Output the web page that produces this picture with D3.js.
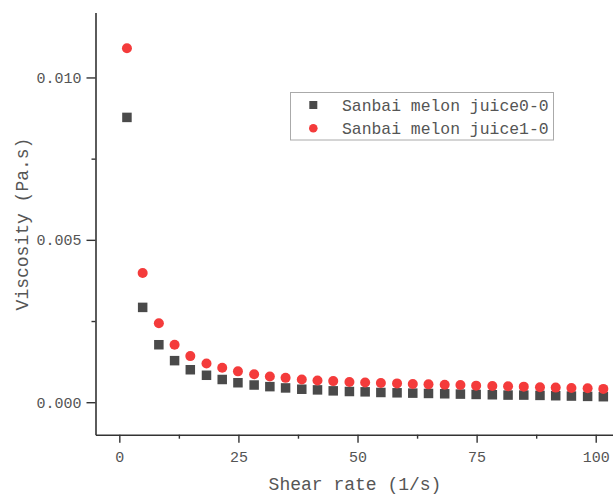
<!DOCTYPE html>
<html>
<head>
<meta charset="utf-8">
<script src="https://cdn.jsdelivr.net/npm/d3@7"></script>
<style>
  html, body { margin: 0; padding: 0; background: #fff; }
  svg { display: block; }
</style>
</head>
<body>
<svg id="chart" width="613" height="497"></svg>
<script>
// ---- data ----
const shearRate = [1.6, 4.9, 8.3, 11.6, 14.9, 18.3, 21.6, 24.9, 28.3, 31.6, 34.9, 38.3, 41.6, 44.9, 48.3, 51.6,
  54.9, 58.3, 61.6, 64.9, 68.3, 71.6, 74.9, 78.3, 81.6, 84.9, 88.3, 91.6, 94.9, 98.3, 101.6];
const juice00 = [0.00877, 0.00292, 0.00177, 0.00128, 0.00100, 0.00083, 0.00070, 0.00060, 0.00053, 0.00048,
  0.00044, 0.00040, 0.00038, 0.00035, 0.00033, 0.00032, 0.00030, 0.00029, 0.00028, 0.00027, 0.00026,
  0.00025, 0.00024, 0.00023, 0.00022, 0.00022, 0.00021, 0.00020, 0.00019, 0.00018, 0.00017];
const juice10 = [0.01090, 0.00398, 0.00243, 0.00177, 0.00142, 0.00119, 0.00106, 0.00095, 0.00086, 0.00079,
  0.00075, 0.00070, 0.00067, 0.00065, 0.00062, 0.00061, 0.00059, 0.00058, 0.00056, 0.00055, 0.00054,
  0.00053, 0.00051, 0.00050, 0.00049, 0.00048, 0.00046, 0.00045, 0.00044, 0.00043, 0.00041];
const seriesNames = ["Sanbai melon juice0-0", "Sanbai melon juice1-0"];
const xTicks = [0, 25, 50, 75, 100];
const xTickLabels = ["0", "25", "50", "75", "100"];
const xMinorTicks = [12.5, 37.5, 62.5, 87.5];
const yTicks = [0, 0.005, 0.010];
const yTickLabels = ["0.000", "0.005", "0.010"];
const yMinorTicks = [0.0025, 0.0075];
const xTitle = "Shear rate (1/s)";
const yTitle = "Viscosity (Pa.s)";

// ---- layout ----
const svg = d3.select("#chart");
const plotLeft = 95.5, plotBottom = 434.7, plotTop = 12.5;
const x = d3.scaleLinear().domain([-5, 105]).range([plotLeft, plotLeft + 110 * 4.764]);
const y = d3.scaleLinear().domain([-0.001, 0.012]).range([plotBottom, plotTop]);

const font = "'Liberation Mono', 'DejaVu Sans Mono', monospace";
const axisColor = "#333";
const textColor = "#555";
const blackC = "#4a4a4a";
const redC = "#f43b3b";

// axes
const gx = svg.append("g").attr("transform", `translate(0,${plotBottom})`)
  .call(d3.axisBottom(x).tickValues(xTicks).tickFormat((d, i) => xTickLabels[i]).tickSize(8).tickSizeOuter(0).tickPadding(9));
const gxm = svg.append("g").attr("transform", `translate(0,${plotBottom})`)
  .call(d3.axisBottom(x).tickValues(xMinorTicks).tickFormat("").tickSize(4).tickSizeOuter(0));
const gy = svg.append("g").attr("transform", `translate(${plotLeft},0)`)
  .call(d3.axisLeft(y).tickValues(yTicks).tickFormat((d, i) => yTickLabels[i]).tickSize(9).tickSizeOuter(0).tickPadding(5));
const gym = svg.append("g").attr("transform", `translate(${plotLeft},0)`)
  .call(d3.axisLeft(y).tickValues(yMinorTicks).tickFormat("").tickSize(4).tickSizeOuter(0));

[gx, gxm, gy, gym].forEach(g => {
  g.select(".domain").attr("stroke", axisColor).attr("stroke-width", 1.6);
  g.selectAll(".tick line").attr("stroke", axisColor).attr("stroke-width", 1.4);
  g.selectAll(".tick text").attr("fill", textColor).style("font-family", font).style("font-size", "15px");
});
gxm.select(".domain").remove();
gym.select(".domain").remove();

// titles
svg.append("text").attr("x", 355).attr("y", 490).attr("text-anchor", "middle")
  .attr("fill", textColor).style("font-family", font).style("font-size", "18px").text(xTitle);
svg.append("text").attr("transform", `translate(28,224) rotate(-90)`).attr("text-anchor", "middle")
  .attr("fill", textColor).style("font-family", font).style("font-size", "18px").text(yTitle);

// data marks
const sq = 9.5;
svg.append("g").selectAll("rect").data(shearRate.map((s, i) => [s, juice00[i]])).join("rect")
  .attr("x", d => x(d[0]) - sq / 2).attr("y", d => y(d[1]) - sq / 2)
  .attr("width", sq).attr("height", sq).attr("fill", blackC);
svg.append("g").selectAll("circle").data(shearRate.map((s, i) => [s, juice10[i]])).join("circle")
  .attr("cx", d => x(d[0])).attr("cy", d => y(d[1])).attr("r", 5).attr("fill", redC);

// legend
const lg = svg.append("g");
lg.append("rect").attr("x", 290.5).attr("y", 92.5).attr("width", 263).attr("height", 47.5)
  .attr("fill", "#fff").attr("stroke", "#aaa").attr("stroke-width", 1);
lg.append("rect").attr("x", 313.3 - 4).attr("y", 105 - 4).attr("width", 8).attr("height", 8).attr("fill", blackC);
lg.append("circle").attr("cx", 313.3).attr("cy", 128.3).attr("r", 4.3).attr("fill", redC);
seriesNames.forEach((n, i) => {
  lg.append("text").attr("x", 342).attr("y", 110.5 + i * 23.3).attr("fill", textColor)
    .style("font-family", font).style("font-size", "16.4px").text(n);
});
</script>
</body>
</html>
